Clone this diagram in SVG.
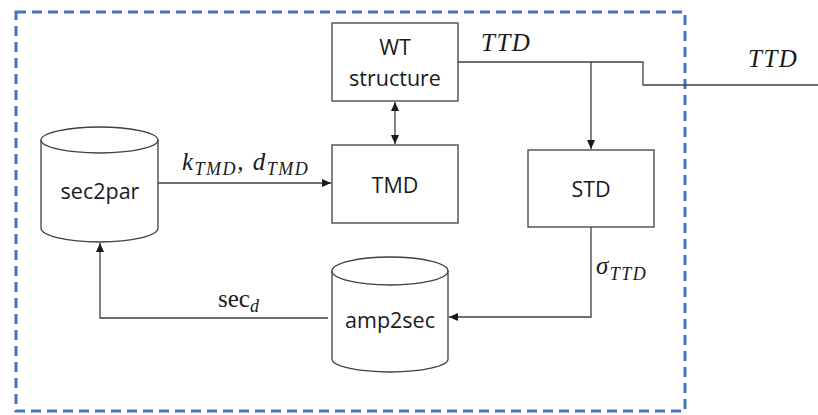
<svg xmlns="http://www.w3.org/2000/svg" width="818" height="415" viewBox="0 0 818 415">
<style>
.box{fill:#fff;stroke:#404040;stroke-width:1.3}
.ln{fill:none;stroke:#404040;stroke-width:1.3}
.t{font-family:"Open Sans","Liberation Sans",sans-serif;font-size:21.5px;fill:#1a1a1a;text-anchor:middle}
.m{font-family:"Liberation Serif","DejaVu Serif",serif;font-style:italic;font-size:25px;fill:#1a1a1a;letter-spacing:1.5px}
.s{font-size:18px}
</style>
<defs>
<marker id="ah" markerWidth="10" markerHeight="8" refX="9" refY="4" orient="auto" markerUnits="userSpaceOnUse">
<path d="M0,0 L9,4 L0,8 Z" fill="#1a1a1a"/>
</marker>
<marker id="ahs" markerWidth="10" markerHeight="8" refX="1" refY="4" orient="auto" markerUnits="userSpaceOnUse">
<path d="M10,0 L1,4 L10,8 Z" fill="#1a1a1a"/>
</marker>
</defs>
<rect x="16" y="12" width="669" height="399" fill="none" stroke="#4472C4" stroke-width="3" stroke-dasharray="10,6"/>
<g id="connectors">
<line class="ln" x1="158" y1="183" x2="331" y2="183" marker-end="url(#ah)"/>
<line class="ln" x1="395" y1="102" x2="395" y2="144" marker-start="url(#ahs)" marker-end="url(#ah)"/>
<polyline class="ln" points="458,62 643,62 643,85 818,85"/>
<line class="ln" x1="591" y1="62" x2="591" y2="149" marker-end="url(#ah)"/>
<polyline class="ln" points="591,227 591,317 449,317" marker-end="url(#ah)"/>
<polyline class="ln" points="328,318 100,318 100,243" marker-end="url(#ah)"/>
<text class="m" x="182" y="170">k<tspan class="s" dy="5">TMD</tspan><tspan dy="-5">, d</tspan><tspan class="s" dy="5">TMD</tspan></text>
<text class="m" x="481" y="51">TTD</text>
<text class="m" x="748" y="67">TTD</text>
<text class="m" x="596" y="274">σ<tspan class="s" dy="6">TTD</tspan></text>
<text x="218" y="307" font-family="Liberation Serif,DejaVu Serif,serif" font-size="25" fill="#1a1a1a">sec<tspan class="m s" dy="5">d</tspan></text>
</g>
<g id="wt">
<rect class="box" x="332" y="23" width="126" height="78"/>
<text class="t" x="395" y="55">WT</text>
<text class="t" x="395" y="86">structure</text>
</g>
<g id="tmd">
<rect class="box" x="332" y="145" width="126" height="78"/>
<text class="t" x="395" y="193">TMD</text>
</g>
<g id="std">
<rect class="box" x="528" y="150" width="126" height="77"/>
<text class="t" x="591" y="197">STD</text>
</g>
<g id="sec2par">
<path class="box" d="M41,140 L41,228 A58.5,14 0 0 0 158,228 L158,140 A58.5,13 0 0 0 41,140 Z"/>
<path class="ln" d="M41,140 A58.5,13 0 0 0 158,140"/>
<text class="t" x="100" y="199">sec2par</text>
</g>
<g id="amp2sec">
<path class="box" d="M332,271 L332,359 A58,13 0 0 0 448,359 L448,271 A58,14 0 0 0 332,271 Z"/>
<path class="ln" d="M332,271 A58,14 0 0 0 448,271"/>
<text class="t" x="390" y="328">amp2sec</text>
</g>
</svg>
